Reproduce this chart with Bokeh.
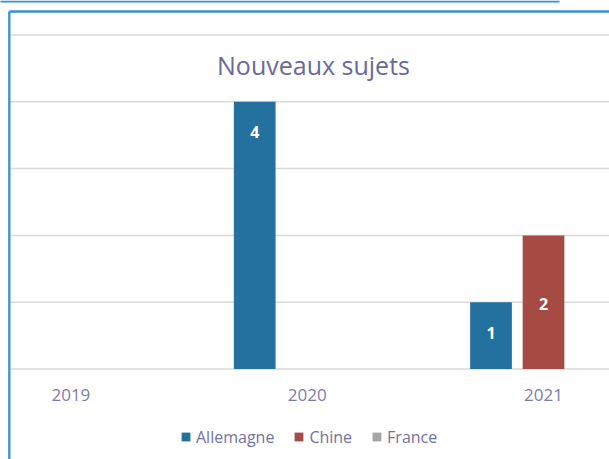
from bokeh.plotting import figure
from bokeh.models import Range1d, Label, Legend, LegendItem
from bokeh.core.properties import value
from bokeh.embed import file_html
from bokeh.resources import INLINE

# ---- data ----
years = ["2019", "2020", "2021"]
allemagne = [0, 4, 1]
chine = [0, 0, 2]
france = [0, 0, 0]
series_names = ["Allemagne", "Chine", "France"]
title_text = "Nouveaux sujets"
grid_values = [0, 1, 2, 3, 4, 5]

# ---- style ----
FONT = "Open Sans"
C_ALL = "#24709F"
C_CHI = "#A64A44"
C_FRA = "#A5A5A5"
BLUE = "#3A8FD6"
GRID_C = "#D9D9D9"
TITLE_C = "#6A6A9A"
TICK_C = "#7C7CA8"
LEG_C = "#72729E"

W, H = 609, 459               # figure size (frame = whole canvas)
PX_PER_CAT = 236.3
PX_PER_UNIT = 66.8
X0_PX = 70.4                  # centre of first category (px)
BASE_PX = 368.5               # value 0 (px)

x_start = -X0_PX / PX_PER_CAT
x_end = x_start + W / PX_PER_CAT
y_end = BASE_PX / PX_PER_UNIT
y_start = -(H - BASE_PX) / PX_PER_UNIT

def px_x(px):
    return x_start + px / PX_PER_CAT

def px_y(px):
    return (BASE_PX - px) / PX_PER_UNIT

p = figure(width=W, height=H, output_backend="svg", toolbar_location=None,
           x_range=Range1d(x_start, x_end), y_range=Range1d(y_start, y_end),
           x_axis_location=None, y_axis_location=None,
           min_border_left=0, min_border_right=0, min_border_top=0, min_border_bottom=0)
p.outline_line_color = None
p.title.visible = False
p.xgrid.visible = False
p.ygrid.visible = False

# horizontal gridlines inside the chart box
gx0 = px_x(10)
p.segment(x0=[gx0] * len(grid_values), x1=[x_end + 1] * len(grid_values),
          y0=grid_values, y1=grid_values, line_color=GRID_C, line_width=1.5)

offset = 52.5 / PX_PER_CAT
bw = 41.7 / PX_PER_CAT
idx = list(range(len(years)))

r_a = p.vbar(x=[i - offset for i in idx], top=allemagne, width=bw, fill_color=C_ALL, line_color=None)
r_c = p.vbar(x=[i for i in idx], top=chine, width=bw, fill_color=C_CHI, line_color=None)
r_f = p.vbar(x=[i + offset for i in idx], top=france, width=bw, fill_color=C_FRA, line_color=None)

# data labels: Allemagne inside end, Chine centred
la_x = [i - offset for i, v in zip(idx, allemagne) if v > 0]
la_y = [v for v in allemagne if v > 0]
la_t = [str(v) for v in allemagne if v > 0]
p.text(x=la_x, y=la_y, text=la_t, text_font=value(FONT), text_font_style="bold",
       text_font_size="16px", text_color="white", text_align="center",
       text_baseline="alphabetic", y_offset=30.5)
lc_x = [i for i, v in zip(idx, chine) if v > 0]
lc_y = [v / 2 for v in chine if v > 0]
lc_t = [str(v) for v in chine if v > 0]
p.text(x=lc_x, y=lc_y, text=lc_t, text_font=value(FONT), text_font_style="bold",
       text_font_size="16px", text_color="white", text_align="center",
       text_baseline="alphabetic", y_offset=1.5)

# category labels under the baseline
p.text(x=idx, y=[0] * len(idx), text=years, text_font=value(FONT),
       text_font_size="17px", text_color=TICK_C, text_align="center",
       text_baseline="alphabetic", y_offset=26.3)

# title
p.add_layout(Label(x=px_x(313), y=px_y(64),
                   text=title_text, text_font=FONT, text_font_size="25px",
                   text_color=TITLE_C, text_align="center", text_baseline="alphabetic"))

# legend
legend = Legend(items=[LegendItem(label=series_names[0], renderers=[r_a]),
                       LegendItem(label=series_names[1], renderers=[r_c]),
                       LegendItem(label=series_names[2], renderers=[r_f])],
                orientation="horizontal", location=(180, 11.5),
                label_text_font=FONT, label_text_font_size="16px", label_text_color=LEG_C,
                glyph_width=11, glyph_height=11, label_standoff=5, spacing=19,
                margin=0, padding=0, border_line_color=None, background_fill_alpha=0)
p.add_layout(legend)

# chart box border (left and top edges) and the page line above it
bx = px_x(8.8)
by = px_y(11)
p.segment(x0=[bx, bx], y0=[by, by], x1=[bx, x_end + 1], y1=[y_start - 1, by],
          line_color=BLUE, line_width=2.3)
p.segment(x0=[x_start - 1], y0=[px_y(1)], x1=[px_x(559)], y1=[px_y(1)],
          line_color=BLUE, line_width=2)

open("out.html", "w").write(file_html(p, INLINE))
